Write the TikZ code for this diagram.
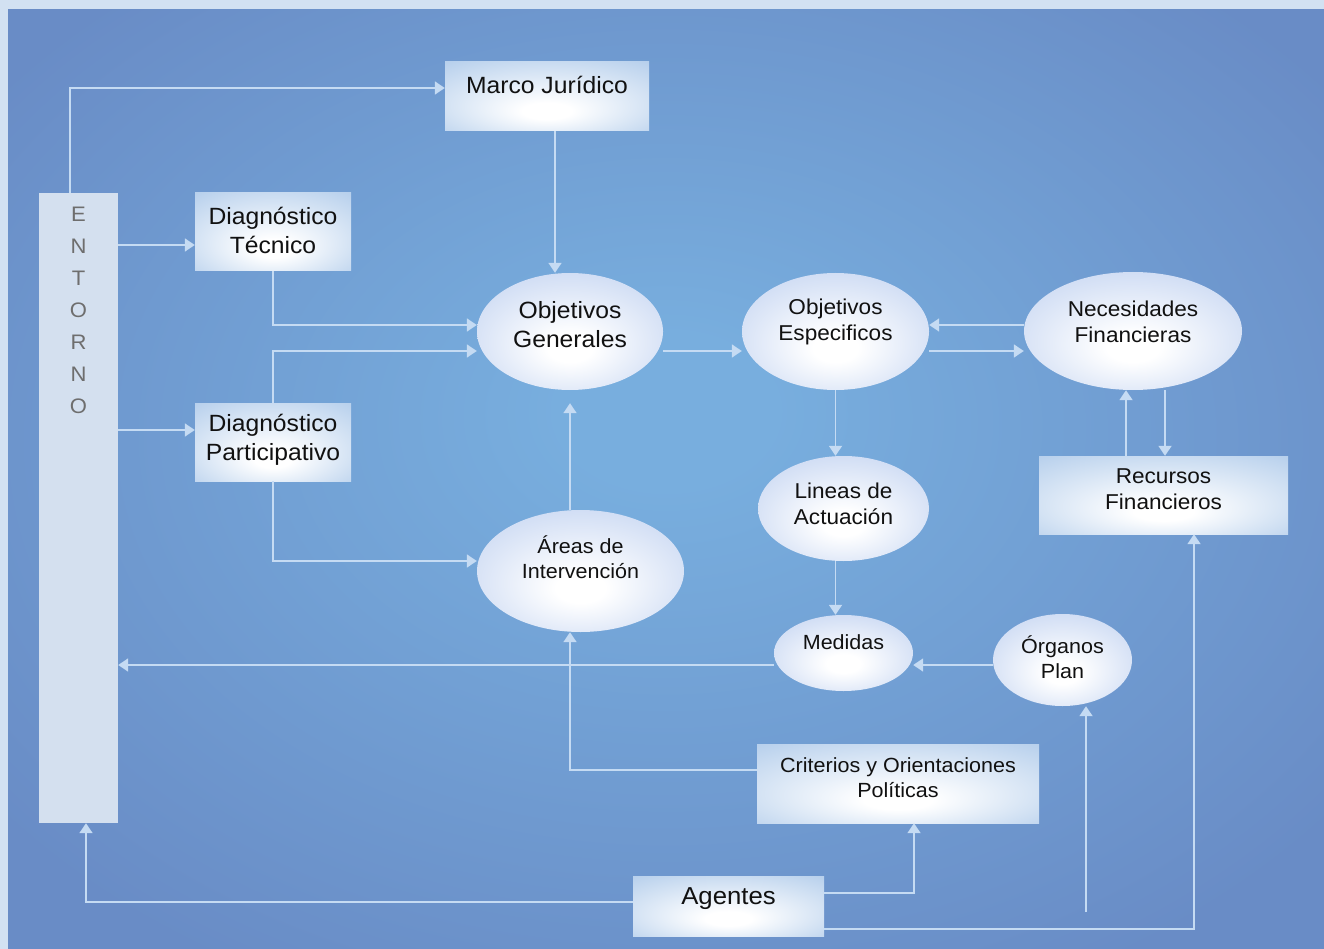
\documentclass[tikz,border=0pt]{standalone}
\usepackage{fontspec}
\setmainfont[FakeStretch=1.05]{Liberation Sans}
\usetikzlibrary{shapes.geometric,arrows.meta,calc}
\definecolor{outerbg}{HTML}{D2E1F2}
\definecolor{bgout}{HTML}{698CC6}
\definecolor{bgin}{HTML}{78AEDE}
\definecolor{boxout}{HTML}{B6CFEC}
\definecolor{ellout}{HTML}{BACDEF}
\definecolor{linec}{HTML}{C5DBF3}
\definecolor{entfill}{HTML}{D4E0EF}
\definecolor{entletter}{HTML}{6E6E6E}
\definecolor{txtc}{HTML}{111111}
\pgfdeclareradialshading{bgglow}{\pgfpoint{0bp}{4bp}}{color(0bp)=(bgin); color(4bp)=(bgin); color(32bp)=(bgout); color(50bp)=(bgout)}
\pgfdeclareradialshading{boxglow}{\pgfpoint{0bp}{-12bp}}{color(0bp)=(white); color(6bp)=(white); color(38bp)=(boxout); color(50bp)=(boxout)}
\pgfdeclareradialshading{ellglow}{\pgfpoint{0bp}{-8bp}}{color(0bp)=(white); color(6bp)=(white); color(40bp)=(ellout); color(50bp)=(ellout)}
\begin{document}
\begin{tikzpicture}[x=1pt,y=-1pt,
  boxn/.style={rectangle, shade, shading=boxglow, inner sep=0pt, draw=none},
  elln/.style={ellipse, shade, shading=ellglow, inner sep=0pt, draw=none},
  txt/.style={text=txtc, align=center, inner sep=0pt},
  big/.style={font=\fontsize{23.5}{29}\selectfont},
  mid/.style={font=\fontsize{21.5}{26}\selectfont},
  sml/.style={font=\fontsize{20.5}{25}\selectfont},
  conn/.style={draw=linec, line width=1.8pt, -{Triangle[length=10pt,width=13pt]}}]
\useasboundingbox (0,0) rectangle (1324,949);
\fill[outerbg] (0,0) rectangle (1324,949);
\shade[shading=bgglow] (8,10) rectangle (1324,949);

% nodes
\node[boxn, minimum width=204pt, minimum height=69pt] (mj) at (547,96.5) {};
\node[fill=entfill, inner sep=0pt, minimum width=79pt, minimum height=630pt] (en) at (78.5,508) {};
\node[boxn, minimum width=156pt, minimum height=78pt] (dt) at (273,232) {};
\node[boxn, minimum width=156pt, minimum height=78pt] (dp) at (273,442) {};
\node[elln, minimum width=186pt, minimum height=117pt] (og) at (570,331.5) {};
\node[elln, minimum width=187pt, minimum height=117pt] (oe) at (835.5,331.5) {};
\node[elln, minimum width=218pt, minimum height=118pt] (nf) at (1133,331) {};
\node[boxn, minimum width=249pt, minimum height=78pt] (rf) at (1163.5,495) {};
\node[elln, minimum width=171pt, minimum height=105pt] (la) at (843.5,508.5) {};
\node[elln, minimum width=207pt, minimum height=122pt] (ai) at (580.5,571) {};
\node[elln, minimum width=139pt, minimum height=76pt] (me) at (843.5,653) {};
\node[elln, minimum width=139pt, minimum height=92pt] (op) at (1062.5,660) {};
\node[boxn, minimum width=282pt, minimum height=79pt] (co) at (898,783.5) {};
\node[boxn, minimum width=191pt, minimum height=60pt] (ag) at (728.5,906) {};

% texts
\node[txt, big] (mjt) at (547,85) {Marco Jurídico};
\node[txt, text=entletter, font=\fontsize{21}{32}\selectfont] (ent) at (78.5,310) {E\\N\\T\\O\\R\\N\\O};
\node[txt, big] (dtt) at (273,230) {Diagnóstico\\Técnico};
\node[txt, big] (dpt) at (273,440) {Diagnóstico\\Participativo};
\node[txt, big] (ogt) at (570,325) {Objetivos\\Generales};
\node[txt, mid] (oet) at (835.5,322) {Objetivos\\Especificos};
\node[txt, mid] (nft) at (1133,322) {Necesidades\\Financieras};
\node[txt, mid] (rft) at (1163.5,489) {Recursos\\Financieros};
\node[txt, mid] (lat) at (843.5,504) {Lineas de\\Actuación};
\node[txt, sml] (ait) at (580.5,557) {Áreas de\\Intervención};
\node[txt, sml] (met) at (843.5,642) {Medidas};
\node[txt, sml] (opt) at (1062.5,657) {Órganos\\Plan};
\node[txt, sml] (cot) at (898,778) {Criterios y Orientaciones\\Políticas};
\node[txt, font=\fontsize{24.5}{30}\selectfont] (agt) at (728.5,899) {Agentes};

% helper coordinates
\coordinate (a1) at ($(dt.west)+(0,13)$);
\coordinate (a2) at ($(dp.west)+(0,-12)$);
\coordinate (a3) at ($(og.west)+(0,-6.5)$);
\coordinate (a4) at ($(og.west)+(0,19.5)$);
\coordinate (a5) at ($(ai.west)+(0,-10)$);
\coordinate (a6) at ($(mj.south)+(8,0)$);
\coordinate (a7) at ($(rf.north)+(-37.5,0)$);
\coordinate (a8) at ($(nf.south)+(32,0)$);
\coordinate (a9) at ($(op.west)+(0,5)$);
\coordinate (a10) at ($(me.west)+(0,12)$);
\coordinate (a11) at ($(co.west)+(0,-13.5)$);
\coordinate (a12) at ($(ag.west)+(0,-4)$);
\coordinate (a13) at ($(ag.east)+(0,-13)$);
\coordinate (a14) at ($(op.south)+(23.5,206)$);
\coordinate (a15) at ($(ag.east)+(0,23)$);

% connectors
\draw[conn] ($(en.north)+(-8.5,0)$) |- ($(mj.west)+(0,-8.5)$);
\draw[conn] (en.east |- a1) -- (a1);
\draw[conn] (en.east |- a2) -- (a2);
\draw[conn] (dt.south) |- (a3);
\draw[conn] (dp.north) |- (a4);
\draw[conn] (dp.south) |- (a5);
\draw[conn] (a6) -- (a6 |- og.north);
\draw[conn] ($(og.east)+(0,19.5)$) -- ($(oe.west)+(0,19.5)$);
\draw[conn] ($(nf.west)+(0,-6)$) -- ($(oe.east)+(0,-6.5)$);
\draw[conn] ($(oe.east)+(0,19.5)$) -- ($(nf.west)+(0,20)$);
\draw[conn] (oe.south) -- (oe.south |- la.north);
\draw[conn] (oe.south |- la.south) -- (oe.south |- me.north);
\draw[conn] (a7) -- (a7 |- nf.south);
\draw[conn] (a8) -- (a8 |- rf.north);
\draw[conn] ($(ai.north)+(-10.5,0)$) -- ($(og.south)+(0,13)$);
\draw[conn] (a9) -- (a9 -| me.east);
\draw[conn] (a10) -- (a10 -| en.east);
\draw[conn] (a11) -| ($(ai.south)+(-10.5,0)$);
\draw[conn] (a12) -| ($(en.south)+(7.5,0)$);
\draw[conn] (a13) -| ($(co.south)+(16,0)$);
\draw[conn] (a14) -- (a14 |- op.south);
\draw[conn] (a15) -| ($(rf.south)+(30.5,0)$);
\end{tikzpicture}
\end{document}
